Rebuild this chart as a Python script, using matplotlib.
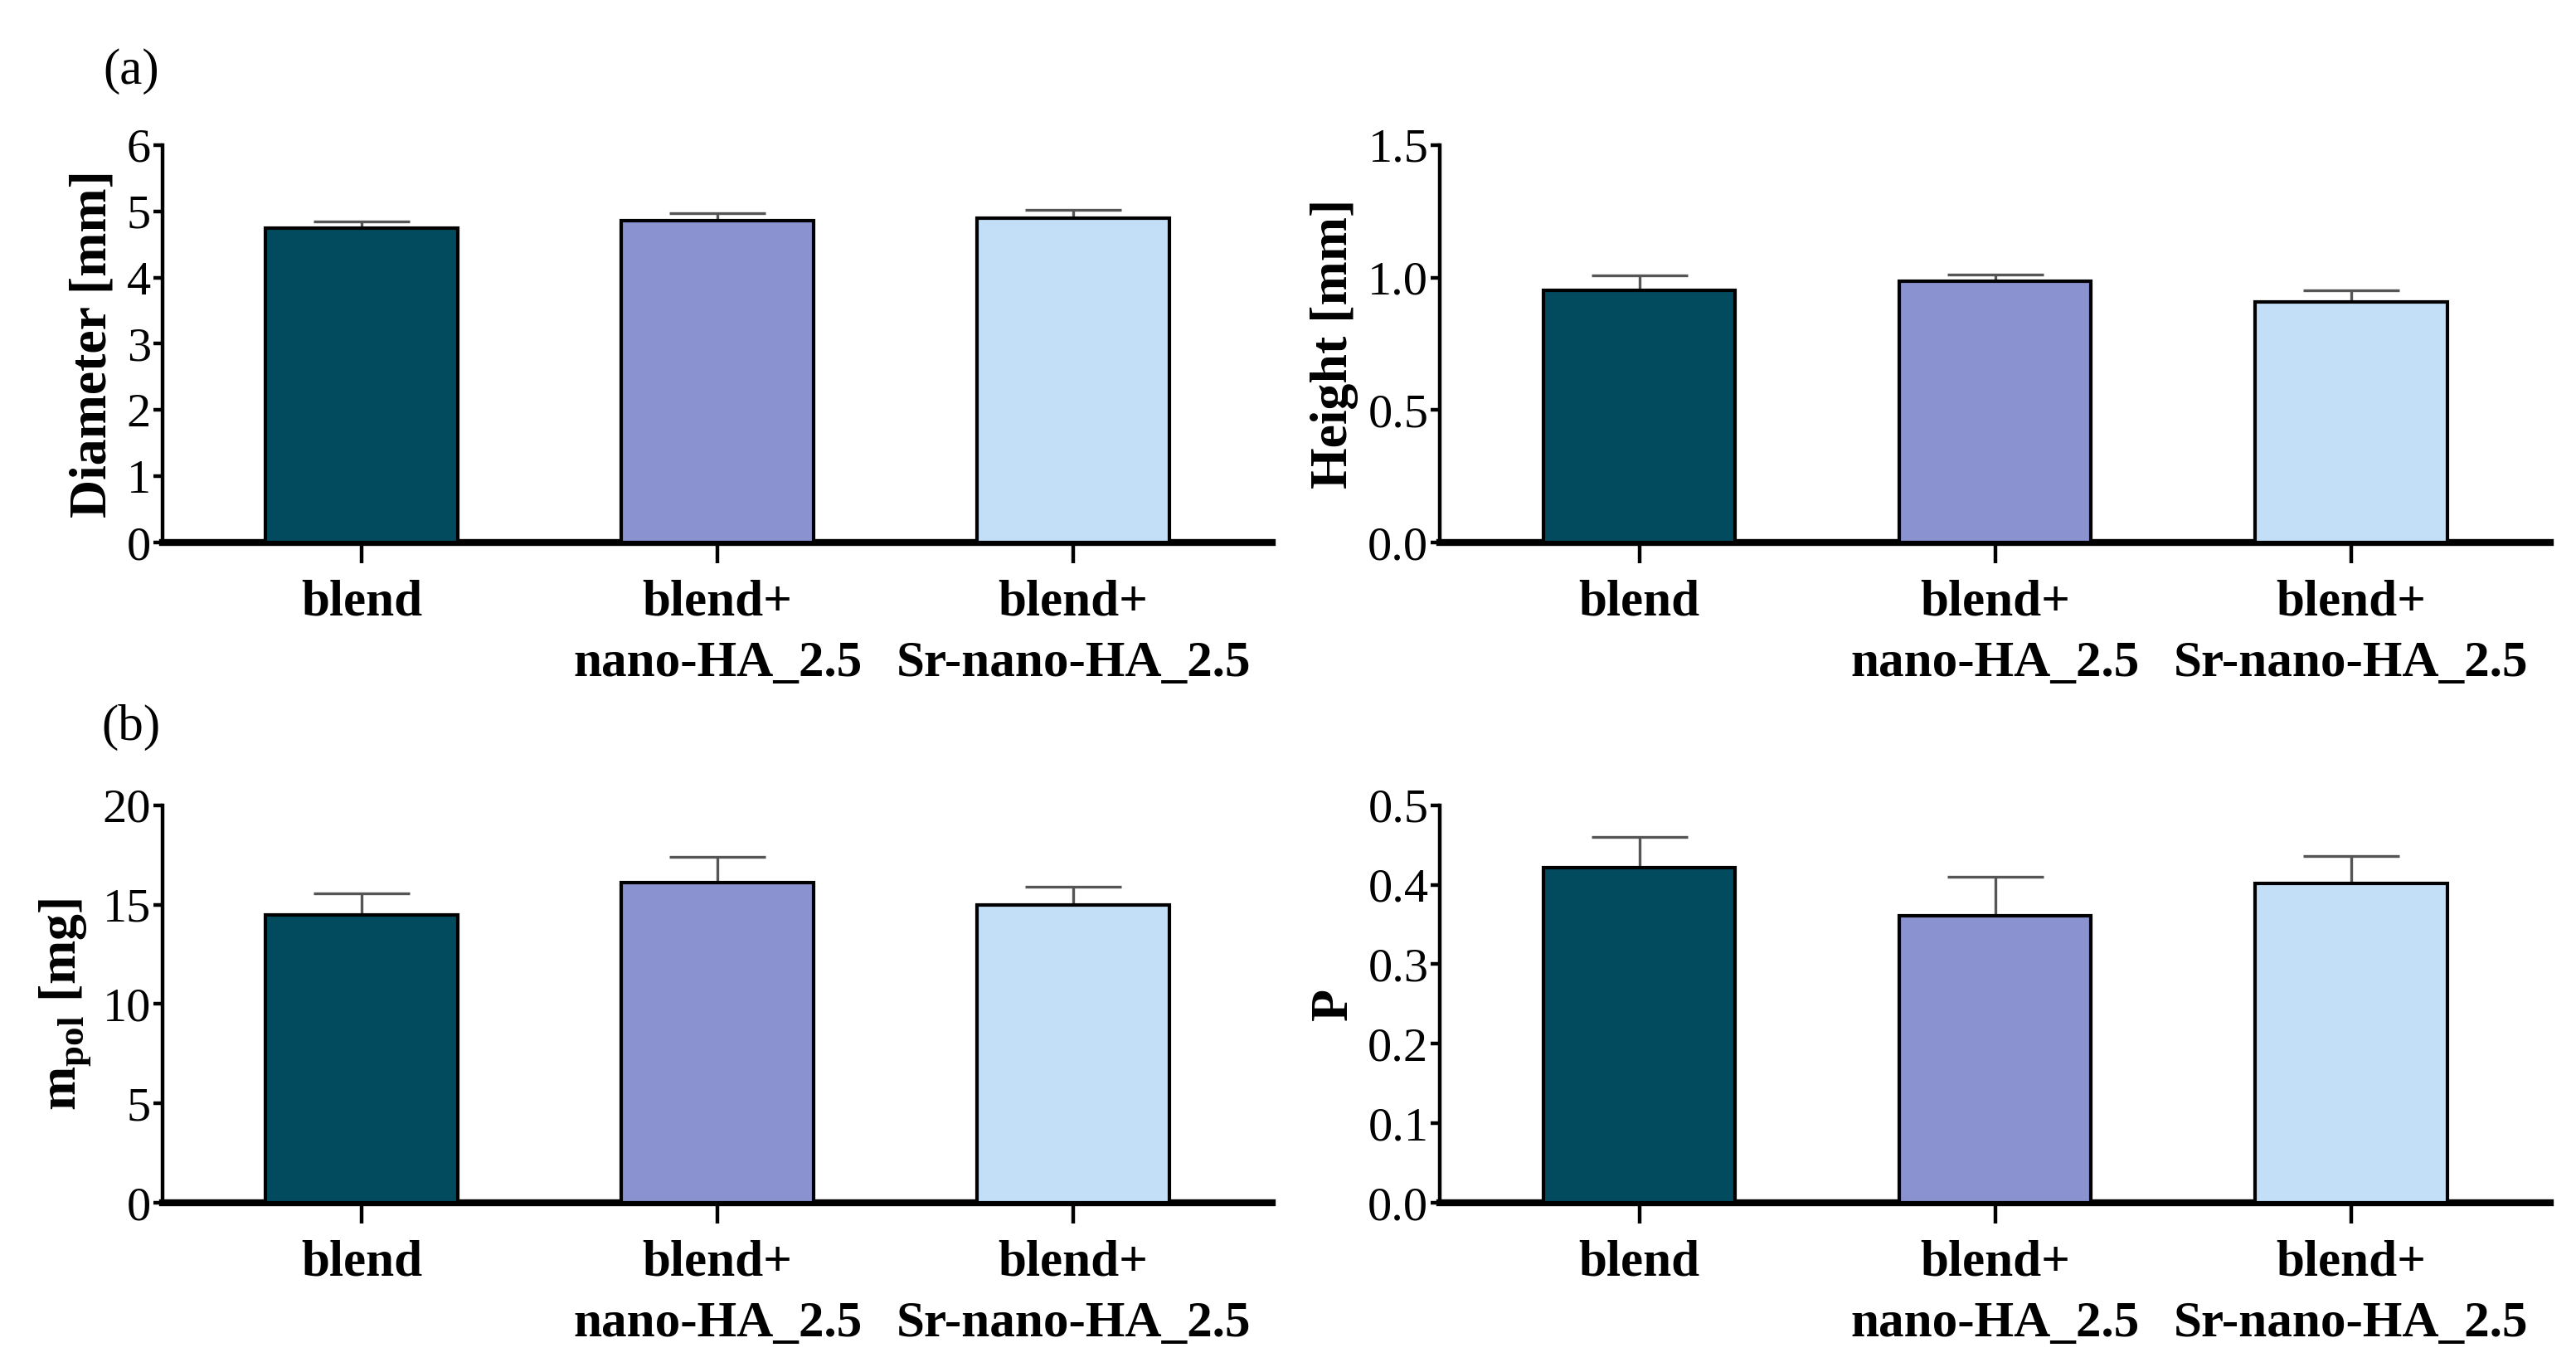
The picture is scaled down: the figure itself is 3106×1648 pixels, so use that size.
import matplotlib
matplotlib.use("Agg")
import matplotlib.pyplot as plt
import numpy as np

categories = ["blend", "blend+\nnano-HA_2.5", "blend+\nSr-nano-HA_2.5"]
colors = ["#024a5e", "#8a92cf", "#c2dff7"]

diameter_mean = [4.74, 4.86, 4.89]
diameter_err = [0.11, 0.11, 0.13]
height_mean = [0.952, 0.985, 0.908]
height_err = [0.055, 0.025, 0.044]
mpol_mean = [14.5, 16.1, 15.0]
mpol_err = [1.05, 1.3, 0.9]
p_mean = [0.421, 0.361, 0.402]
p_err = [0.039, 0.049, 0.034]

plt.rcParams['font.family'] = ['Liberation Serif', 'DejaVu Serif']
plt.rcParams['mathtext.fontset'] = 'custom'
plt.rcParams['mathtext.rm'] = 'Liberation Serif'

fig = plt.figure(figsize=(15.53, 8.24), dpi=200)

axes_specs = [
    ([0.063, 0.603, 0.431, 0.291], diameter_mean, diameter_err, (0, 6), np.arange(0, 7, 1), "{:.0f}", "Diameter [mm]"),
    ([0.559, 0.603, 0.431, 0.291], height_mean, height_err, (0, 1.5), np.arange(0, 1.6, 0.5), "{:.1f}", "Height [mm]"),
    ([0.063, 0.120, 0.431, 0.291], mpol_mean, mpol_err, (0, 20), np.arange(0, 21, 5), "{:.0f}", r"m$_{\mathregular{pol}}$ [mg]"),
    ([0.559, 0.120, 0.431, 0.291], p_mean, p_err, (0, 0.5), np.arange(0, 0.51, 0.1), "{:.1f}", "P"),
]

for rect, means, errs, ylim, yticks, fmt, ylabel in axes_specs:
    ax = fig.add_axes(rect)
    x = np.arange(len(categories))
    ax.bar(x, means, width=0.54, color=colors, edgecolor="black", linewidth=1.5, zorder=3)
    ax.errorbar(x, means, yerr=[np.zeros(len(errs)), errs], fmt="none", ecolor="#555555",
                elinewidth=1.2, capsize=21, capthick=1.2, zorder=2)
    ax.set_xlim(-0.56, 2.56)
    ax.set_ylim(*ylim)
    ax.set_yticks(yticks)
    ax.set_yticklabels([fmt.format(v) for v in yticks], fontsize=21)
    ax.set_xticks(x)
    ax.set_xticklabels(categories, fontsize=22, fontweight="bold", linespacing=1.4)
    ax.spines["top"].set_visible(False)
    ax.spines["right"].set_visible(False)
    ax.spines["left"].set_linewidth(1.6)
    ax.spines["bottom"].set_linewidth(3.0)
    ax.tick_params(axis="y", direction="out", length=4, width=1.6, pad=1)
    ax.tick_params(axis="x", direction="out", length=9, width=1.6, pad=7)
    ax.set_ylabel(ylabel, fontsize=23, fontweight="bold", labelpad=4)

fig.text(0.051, 0.948, "(a)", fontsize=22, ha="center", va="center")
fig.text(0.051, 0.468, "(b)", fontsize=22, ha="center", va="center")

fig.savefig("out.png", dpi=200)
